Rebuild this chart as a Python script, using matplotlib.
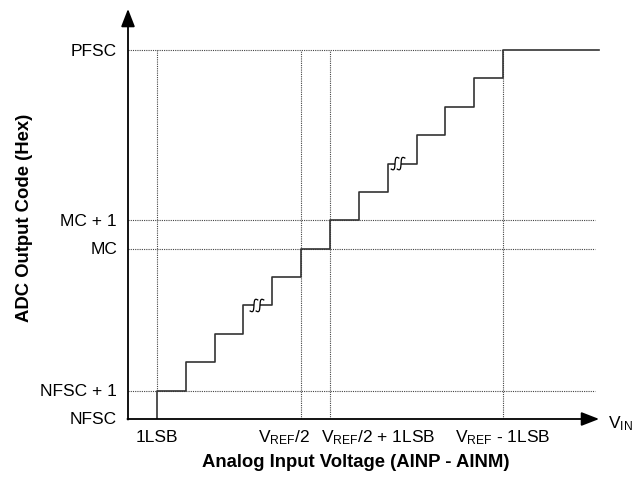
import numpy as np
import matplotlib
matplotlib.use('Agg')
import matplotlib.pyplot as plt
from matplotlib.transforms import ScaledTranslation

plt.rcParams['font.family'] = ['Liberation Sans', 'DejaVu Sans']
plt.rcParams['mathtext.fontset'] = 'custom'
plt.rcParams['mathtext.rm'] = 'Liberation Sans'
plt.rcParams['mathtext.it'] = 'Liberation Sans:italic'
plt.rcParams['mathtext.bf'] = 'Liberation Sans:bold'

# transfer function: input in LSB units, output code steps
step_x = [1, 2, 3, 4, 5, 6, 7, 8, 9, 10, 11, 12, 13]
codes = [1, 2, 3, 4, 5, 6, 7, 8, 9, 10, 11, 12, 13]
x_end = 16.33

# labelled output codes
y_ticks = [0, 1, 6, 7, 13]
y_labels = ['NFSC', 'NFSC + 1', 'MC', 'MC + 1', 'PFSC']

# labelled input voltages
x_labels = ['1LSB', r'V$_{\mathrm{REF}}$/2', r'V$_{\mathrm{REF}}$/2 + 1LSB',
            r'V$_{\mathrm{REF}}$ - 1LSB']
x_label_ha = ['center', 'right', 'left', 'center']
x_label_pos = [1, 6.3, 6.7, 13]

# "break" marks on the staircase
breaks_x = [4.47, 9.36]
breaks_y = [4, 9]

W, H = 643, 481
fig = plt.figure(figsize=(W / 100, H / 100), dpi=100)
ux, uy = 28.85, 28.38  # pixels per unit
ax = fig.add_axes([128 / W, 61 / H, 512 / W, 415 / H])
ax.set_xlim(0, 512 / ux)
ax.set_ylim(0, 415 / uy)
ax.axis('off')

dot = dict(color='#444444', lw=0.8, ls=(0, (1, 1)), zorder=1)
# horizontal guide lines
ax.plot([0, 13], [13, 13], **dot)
for yv in [7, 6, 1]:
    ax.plot([0, 16.2], [yv, yv], **dot)
# vertical guide lines
ax.plot([1, 1], [1, 13], **dot)
for xv in [6, 7, 13]:
    ax.plot([xv, xv], [0, 13], **dot)

# staircase
xs = [1] + step_x + [x_end]
ys = [0] + codes + [codes[-1]]
ax.step(xs, ys, where='post', color='#333333', lw=1.2, zorder=3)

# break marks (two small "S" strokes with a gap between)
t = np.linspace(-1, 1, 60)
for bx, by in zip(breaks_x, breaks_y):
    trans = fig.dpi_scale_trans + ScaledTranslation(bx, by, ax.transData)
    ax.plot([-0.03, 0.03], [0, 0], color='white', lw=3, transform=trans,
            zorder=4, solid_capstyle='butt')
    for off in [-0.03, 0.03]:
        cx = off + 0.03 * t ** 3 + 0.008 * t
        cy = 0.062 * np.sin(0.65 * np.pi * t)
        ax.plot(cx, cy, color='black', lw=0.9, transform=trans, zorder=5)

# axes with arrows
arr = dict(arrowstyle='-|>,head_length=0.9,head_width=0.35', color='black',
           lw=1.3, mutation_scale=12, shrinkA=0, shrinkB=0)
ax.annotate('', xy=(0, 14.45), xytext=(0, -0.02), arrowprops=arr,
            annotation_clip=False)
ax.annotate('', xy=(16.33, 0), xytext=(-0.02, 0), arrowprops=arr,
            annotation_clip=False)

# tick labels
for yv, lab in zip(y_ticks, y_labels):
    ax.text(-0.38, yv, lab, ha='right', va='center', fontsize=12.5,
            clip_on=False)
for xv, lab, ha in zip(x_label_pos, x_labels, x_label_ha):
    ax.text(xv, -0.63, lab, ha=ha, va='center', fontsize=12.5, clip_on=False)
ax.text(16.65, -0.12, r'V$_{\mathrm{IN}}$', ha='left', va='center',
        fontsize=12.5, clip_on=False)

fig.text(356 / W, 1 - 463 / H, 'Analog Input Voltage (AINP - AINM)',
         ha='center', va='center', fontsize=13.3, fontweight='bold')
fig.text(25 / W, 1 - 218 / H, 'ADC Output Code (Hex)', ha='center',
         va='center', fontsize=13.3, fontweight='bold', rotation=90)

fig.savefig('out.png', dpi=100)
